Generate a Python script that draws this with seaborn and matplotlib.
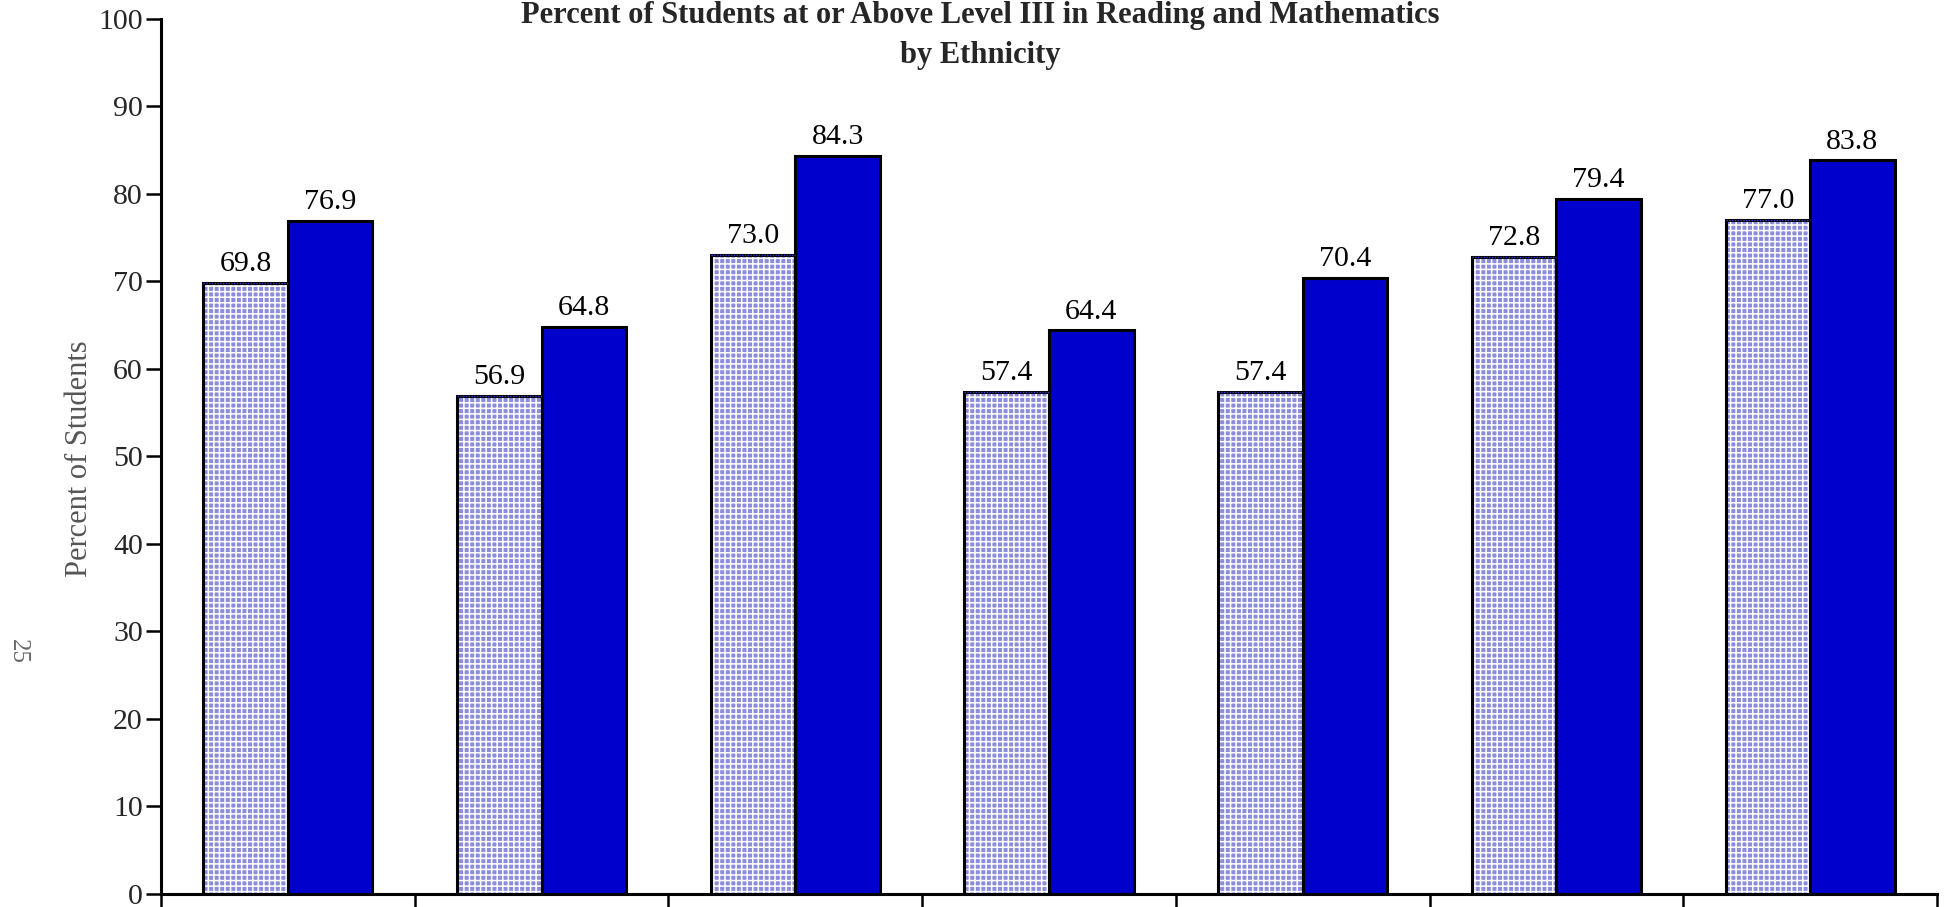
import numpy as np
import pandas as pd
import matplotlib
matplotlib.use("Agg")
import matplotlib.pyplot as plt
from matplotlib.colors import to_rgba
import seaborn as sns

# Percent of students at or above Level III, by ethnic group
groups = ["Group 1", "Group 2", "Group 3", "Group 4", "Group 5", "Group 6", "Group 7"]
reading = [69.8, 56.9, 73.0, 57.4, 57.4, 72.8, 77.0]
mathematics = [76.9, 64.8, 84.3, 64.4, 70.4, 79.4, 83.8]
subjects = ["Reading", "Mathematics"]
y_ticks = [0, 10, 20, 30, 40, 50, 60, 70, 80, 90, 100]

df = pd.DataFrame({
    "Group": groups * 2,
    "Subject": [subjects[0]] * len(groups) + [subjects[1]] * len(groups),
    "Percent": reading + mathematics,
})

sns.set_theme(style="white")
plt.rcParams["font.family"] = ["Liberation Serif", "DejaVu Serif"]
plt.rcParams["hatch.linewidth"] = 1.1

light = "#8c8cdc"
dark = "#0000cc"

fig = plt.figure(figsize=(19.44, 9.07), dpi=100)
ax = fig.add_axes([0.0828, 0.0143, 0.9136, 0.9652])

sns.barplot(data=df, x="Group", y="Percent", hue="Subject", order=groups,
            hue_order=subjects, palette=[light, dark], width=2 / 3, gap=0,
            edgecolor="black", linewidth=2.2, saturation=1, legend=False, ax=ax)

# Checkered fill for the reading bars: black sides and base, thin top edge
read_bars, math_bars = ax.containers[0], ax.containers[1]
for p in read_bars:
    p.set_linewidth(0)
    p.set_hatch("+++")
    p._hatch_color = to_rgba("white")
    x0, w, h = p.get_x(), p.get_width(), p.get_height()
    ax.plot([x0, x0, x0 + w, x0 + w], [0, h, h, 0], color="black", lw=2.2,
            solid_joinstyle="miter", zorder=3)
    ax.plot([x0, x0 + w], [h, h], color="#3a3ad0", lw=1.0, ls=(0, (1, 1)), zorder=4)

for cont in (read_bars, math_bars):
    ax.bar_label(cont, fmt="%.1f", padding=4, fontsize=21.5, color="black")

ax.set_ylim(0, 100)
ax.set_yticks(y_ticks)
ax.set_xlim(-0.5, len(groups) - 0.5)
ax.set_xticks(np.arange(len(groups) + 1) - 0.5, minor=True)
ax.tick_params(axis="x", which="major", length=0, labelbottom=False)
ax.tick_params(axis="x", which="minor", direction="out", length=11, width=1.8,
               color="black", bottom=True)
ax.tick_params(axis="y", direction="out", length=11, width=1.8, color="black",
               labelsize=21.5, pad=2, left=True)
ax.set_xlabel("")
ax.set_ylabel("")
for side in ("top", "right"):
    ax.spines[side].set_visible(False)
for side in ("left", "bottom"):
    ax.spines[side].set_color("black")
    ax.spines[side].set_linewidth(2.2)

fig.text(0.504, 1 - 15 / 907, "Percent of Students at or Above Level III in Reading and Mathematics",
         ha="center", va="center", fontsize=22, fontweight="bold")
fig.text(0.504, 1 - 56 / 907, "by Ethnicity", ha="center", va="center",
         fontsize=22, fontweight="bold")
fig.text(0.041, 0.494, "Percent of Students", rotation=90, ha="center", va="center",
         fontsize=22, color="#555555")
fig.text(0.009, 0.282, "25", rotation=270, ha="center", va="center",
         fontsize=18, color="#666666")

fig.savefig("out.png", dpi=100)
